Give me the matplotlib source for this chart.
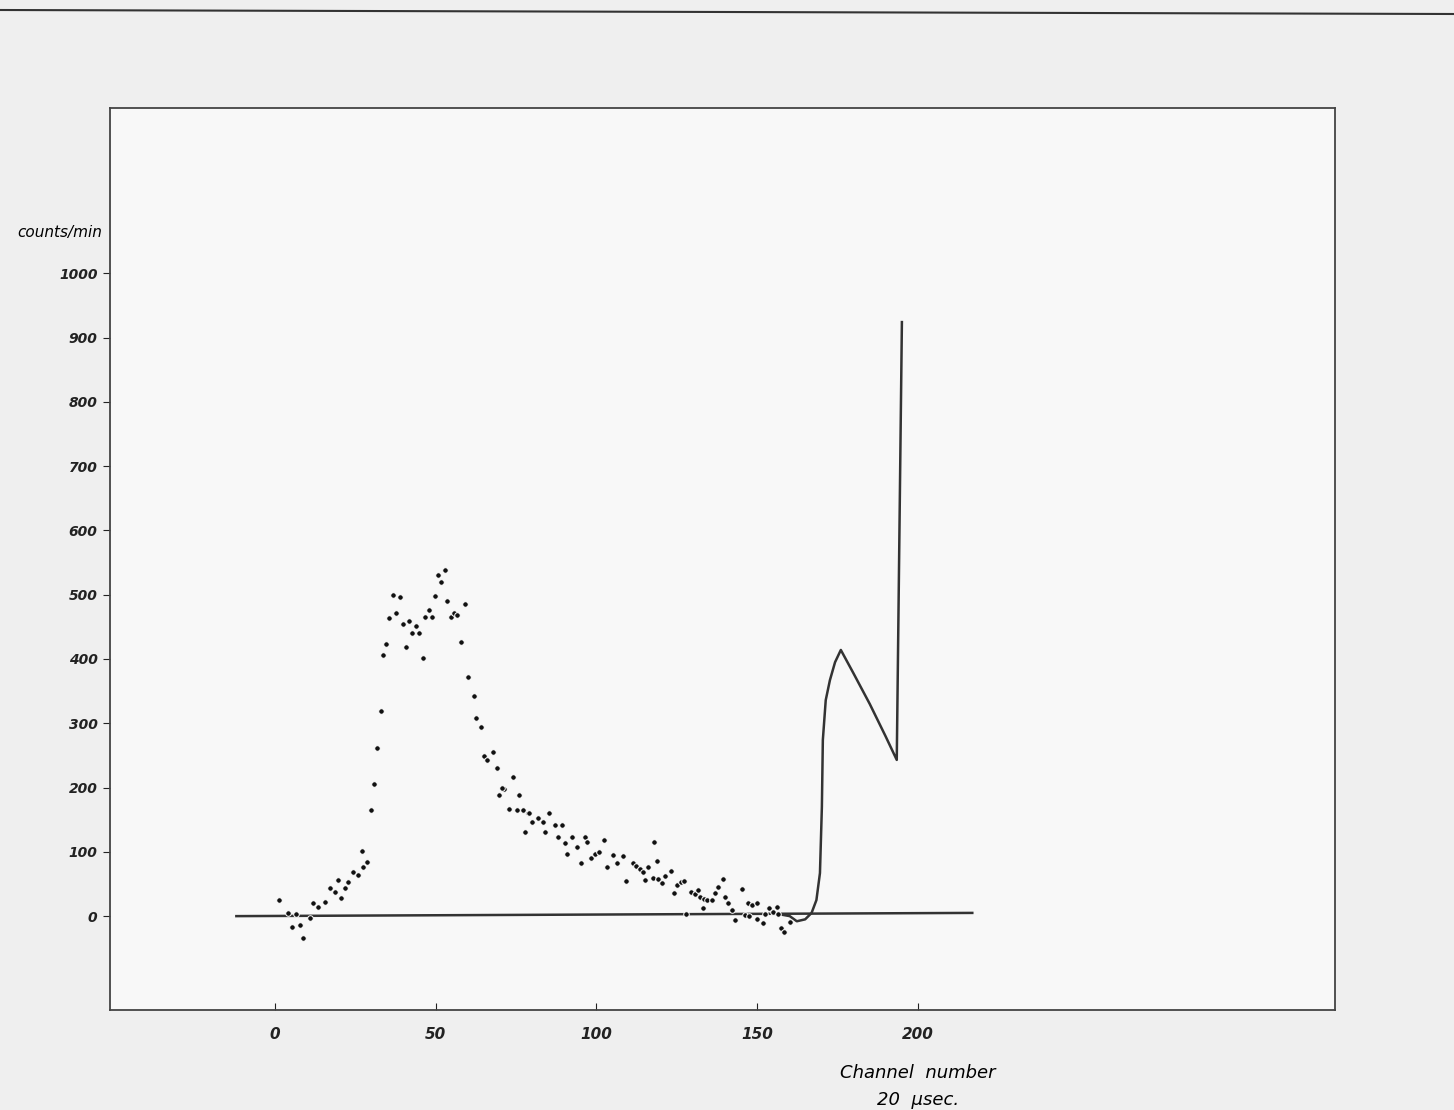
import matplotlib
matplotlib.use("Agg")
import matplotlib.pyplot as plt
from matplotlib.lines import Line2D

# data (channel number vs counts/min)
canal = [1.3, 4.1, 6.7, 5.2, 7.8, 8.6, 10.9, 11.7, 13.5, 15.6, 17.1, 18.7, 19.7, 20.7,
         21.8, 22.8, 24.4, 25.9, 27.5, 28.5, 27.0, 29.9, 30.8, 31.7, 32.9, 33.5, 34.6,
         35.5, 36.6, 37.6, 38.9, 39.7, 40.8, 41.7, 42.7, 43.8, 44.7, 46.0, 46.7, 47.9,
         48.9, 49.8, 50.8, 51.6, 52.9, 53.7, 54.7, 55.7, 56.8, 59.1, 57.9, 60.0, 61.8,
         62.7, 64.0, 65.0, 66.1, 67.9, 69.0, 69.8, 71.3, 74.0, 72.9, 75.2, 76.0, 77.3,
         77.8, 78.8, 70.8, 79.0, 79.9, 81.9, 84.0, 83.5, 85.4, 87.1, 89.2, 88.0, 90.2,
         92.3, 90.9, 93.9, 96.5, 97.2, 95.1, 98.2, 99.6, 100.9, 102.4, 103.2, 105.1,
         106.3, 108.2, 109.4, 111.5, 112.5, 113.6, 114.4, 116.2, 115.1, 117.5, 117.9,
         118.8, 119.3, 120.6, 121.3, 123.1, 124.2, 125.0, 126.5, 127.3, 127.9, 129.6,
         130.7, 131.7, 132.2, 133.5, 134.6, 135.9, 133.3, 136.9, 137.9, 139.3, 140.0,
         141.0, 142.1, 143.1, 145.2, 146.2, 147.3, 148.6, 149.9, 147.6, 149.9, 151.9,
         152.5, 153.8, 154.9, 156.1, 156.6, 157.6, 158.3, 160.2]
cuentas = [25, 5, 4, -17, -14, -34, -3, 20, 14, 22, 43, 38, 56, 28,
           43, 53, 69, 64, 77, 84, 101, 165, 206, 262, 319, 406, 423,
           463, 499, 472, 497, 455, 418, 459, 440, 452, 440, 402, 465, 476,
           466, 498, 531, 519, 538, 490, 465, 472, 468, 486, 427, 372, 342,
           308, 294, 249, 243, 255, 231, 188, 198, 216, 167, 165, 188, 165,
           131, 160, 200, 160, 147, 152, 131, 147, 160, 142, 142, 123, 114,
           123, 97, 108, 123, 115, 82, 90, 97, 100, 118, 77, 95,
           82, 93, 55, 83, 78, 74, 69, 77, 56, 60, 116,
           86, 57, 51, 62, 70, 36, 48, 53, 55, 4, 38,
           34, 40, 30, 26, 25, 25, 12, 36, 45, 58, 30,
           20, 9, -6, 42, 2, 21, 17, 20, 0, -4, -10,
           4, 12, 7, 14, 4, -19, -25, -9]

# hand drawn curve (solid line)
curva_x = [158.0, 160.2, 162.4, 165.0, 167.0, 168.5, 169.6, 170.2, 170.5, 171.4, 172.7,
           174.3, 176.1, 180.0, 185.1, 190.0, 193.5, 195.1]
curva_y = [2, 0, -8, -5, 5, 25, 67, 170, 274, 336, 367, 395, 414, 378, 330, 280, 243, 924]

# horizontal zero line
base_x = [-12, 217]
base_y = [0, 5]

y_ticks = [0, 100, 200, 300, 400, 500, 600, 700, 800, 900, 1000]
x_ticks = [0, 50, 100, 150, 200]

fig = plt.figure(figsize=(14.54, 11.10), dpi=100, facecolor="#efefef")
ax = fig.add_axes([0.0757, 0.0901, 0.918 - 0.0757, 0.9027 - 0.0901])
ax.set_facecolor("#f8f8f8")

ax.plot(base_x, base_y, color="#333333", lw=1.8)
ax.plot(curva_x, curva_y, color="#333333", lw=1.8)
ax.plot(canal, cuentas, "o", color="#111111", ms=4, mec="white", mew=0.7)

ax.set_xlim(-51.3, 329.8)
ax.set_ylim(-146, 1257)

for s in ax.spines.values():
    s.set_color("#444444")
    s.set_linewidth(1.3)

ax.set_yticks(y_ticks)
ax.set_yticklabels([str(v) for v in y_ticks], fontstyle="italic", fontsize=10,
                   fontweight="bold")
ax.tick_params(axis="y", direction="out", length=5, pad=4, colors="#222222")
ax.set_xticks(x_ticks)
ax.set_xticklabels([str(v) for v in x_ticks], fontstyle="italic", fontsize=11,
                   fontweight="bold")
ax.tick_params(axis="x", direction="in", length=5, pad=12, colors="#222222")

fig.text(60 / 1454, 1 - 233 / 1110, "counts/min", fontstyle="italic", fontsize=11,
         ha="center", va="center")
fig.text(918 / 1454, 1 - 1073 / 1110, "Channel  number", fontstyle="italic",
         fontsize=13, ha="center", va="center")
fig.text(918 / 1454, 1 - 1100 / 1110, "20  \u03bcsec.", fontstyle="italic",
         fontsize=13, ha="center", va="center")

# edge of the scanned page
fig.add_artist(Line2D([0, 1], [1 - 10 / 1110, 1 - 14 / 1110],
                      transform=fig.transFigure, color="#333333", lw=1.5))

fig.savefig("out.png", dpi=100, facecolor=fig.get_facecolor())
